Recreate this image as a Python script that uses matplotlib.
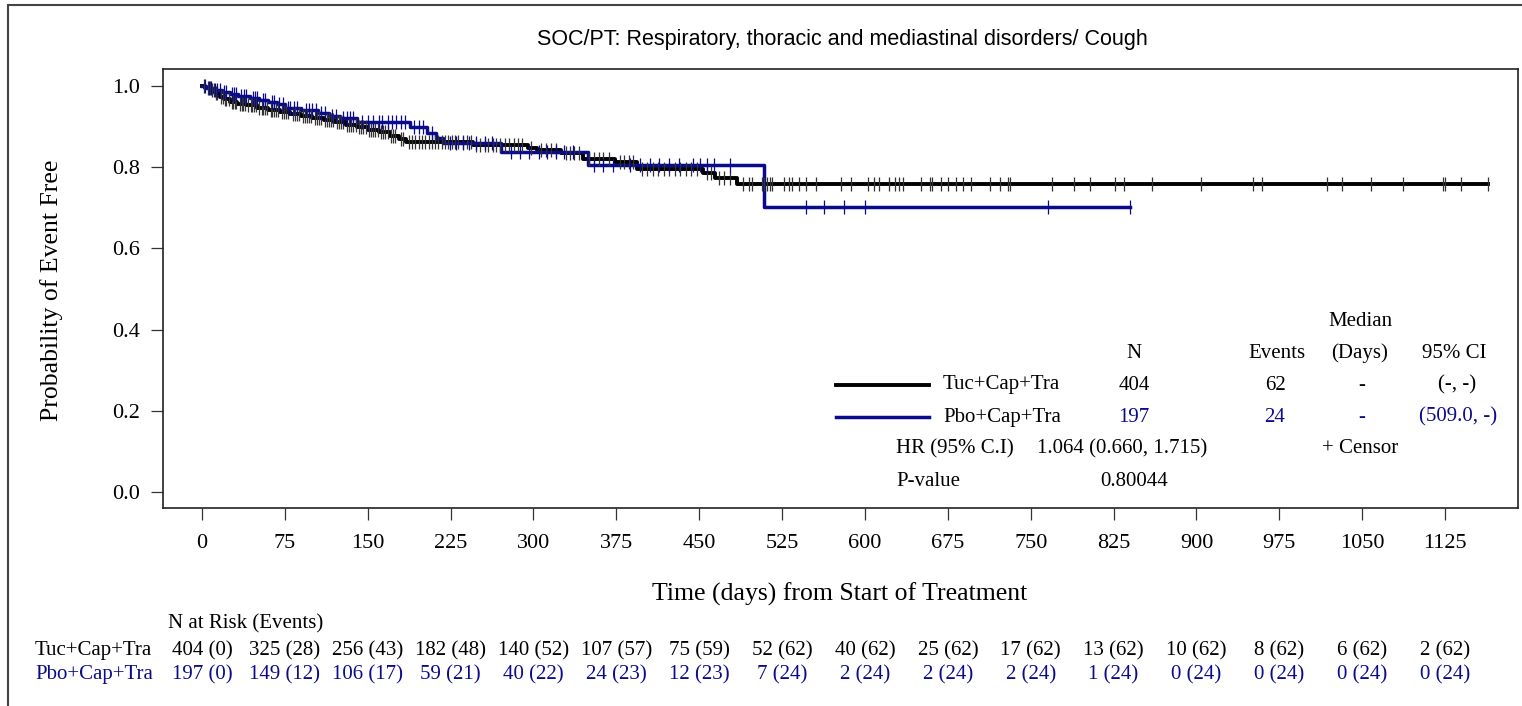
import numpy as np
import matplotlib
matplotlib.use("Agg")
import matplotlib.pyplot as plt
from matplotlib.lines import Line2D
from matplotlib.patches import Rectangle
from matplotlib.transforms import blended_transform_factory

plt.rcParams['font.family'] = ['Liberation Serif', 'DejaVu Serif']

# KM steps (time in days, survival after the step)
tuc_times = [0, 3, 8, 12, 16, 20, 25, 32, 40, 50, 60, 71, 80, 90, 100, 110, 120, 130, 140,
             150, 160, 170, 178, 185, 245, 295, 303, 325, 345, 374, 394, 453, 464, 484]
tuc_surv = [1.0, 0.995, 0.99, 0.982, 0.973, 0.967, 0.96, 0.956, 0.953, 0.946, 0.94, 0.936,
            0.932, 0.927, 0.922, 0.917, 0.911, 0.905, 0.899, 0.892, 0.886, 0.878, 0.87, 0.863,
            0.855, 0.847, 0.842, 0.835, 0.82, 0.813, 0.796, 0.786, 0.773, 0.758]
tuc_end = 1164

pbo_times = [0, 4, 10, 18, 25, 33, 43, 52, 60, 68, 75, 90, 105, 115, 125, 140, 188, 204,
             212, 218, 271, 349, 509]
pbo_surv = [1.0, 0.995, 0.99, 0.985, 0.98, 0.975, 0.97, 0.965, 0.96, 0.955, 0.945, 0.94,
            0.933, 0.927, 0.92, 0.911, 0.898, 0.885, 0.872, 0.859, 0.837, 0.805, 0.702]
pbo_end = 840

tuc_censor = [2, 5, 7, 9, 11, 13, 14, 17, 19, 21, 22, 24, 27, 28, 30, 31, 34, 36, 37, 39, 42,
              44, 45, 47, 49, 52, 54, 55, 57, 59, 62, 63, 65, 67, 69, 72, 74, 76, 78, 82, 84,
              86, 88, 91, 93, 95, 97, 99, 102, 104, 106, 108, 111, 113, 115, 117, 119, 122,
              124, 126, 128, 131, 133, 135, 137, 139, 142, 144, 146, 148, 151, 153, 155, 157,
              159, 162, 164, 166, 168, 171, 173, 175, 180, 182, 187, 190, 193, 196, 199, 202,
              205, 208, 211, 214, 217, 220, 223, 226, 229, 232, 236, 240, 243, 248, 252, 256,
              259, 263, 266, 270, 274, 278, 282, 286, 290, 298, 307, 311, 316, 320, 329, 333,
              337, 341, 350, 355, 359, 363, 368, 378, 382, 386, 390, 398, 403, 408, 413, 418,
              423, 428, 433, 438, 443, 448, 457, 461, 468, 472, 478, 490, 495, 498, 507, 509,
              511, 514, 516, 527, 531, 534, 540, 547, 556, 578, 587, 603, 608, 613, 622, 627,
              631, 634, 651, 659, 661, 669, 675, 682, 689, 696, 713, 722, 729, 731, 769, 789,
              804, 826, 834, 860, 904, 951, 959, 1018, 1032, 1058, 1087, 1123, 1125, 1139, 1164]
pbo_censor = [3, 6, 8, 12, 14, 16, 20, 22, 27, 29, 31, 35, 38, 40, 46, 48, 50, 55, 57, 63, 65,
              70, 73, 78, 80, 83, 86, 94, 97, 100, 103, 108, 111, 118, 121, 128, 131, 134, 137,
              145, 150, 155, 160, 163, 168, 172, 176, 180, 184, 192, 196, 200, 208, 224, 230,
              236, 242, 248, 256, 262, 280, 288, 296, 305, 312, 320, 328, 336, 355, 363, 372,
              387, 396, 405, 414, 423, 432, 444, 451, 457, 463, 478, 547, 563, 581, 600, 766, 840]

xticks = list(range(0, 1126, 75))
tuc_risk = ["404 (0)", "325 (28)", "256 (43)", "182 (48)", "140 (52)", "107 (57)", "75 (59)",
            "52 (62)", "40 (62)", "25 (62)", "17 (62)", "13 (62)", "10 (62)", "8 (62)",
            "6 (62)", "2 (62)"]
pbo_risk = ["197 (0)", "149 (12)", "106 (17)", "59 (21)", "40 (22)", "24 (23)", "12 (23)",
            "7 (24)", "2 (24)", "2 (24)", "2 (24)", "1 (24)", "0 (24)", "0 (24)", "0 (24)",
            "0 (24)"]

BLUE = '#0a0a8c'
W, H = 1522, 706


def fx(x):
    return x / W


def fy(y):
    return 1 - y / H


fig = plt.figure(figsize=(W / 100, H / 100), dpi=100)
ax = fig.add_axes([fx(163), fy(508), fx(1518) - fx(163), fy(69) - fy(508)])

fig.patches.append(Rectangle((fx(8), fy(730)), 1.2, fy(5) - fy(730), transform=fig.transFigure,
                             fill=False, edgecolor='#444444', linewidth=1.5))


def km(times, surv, end, censor, color, lw, tick_color):
    ax.step(times + [end], surv + [surv[-1]], where='post', color=color, lw=lw, zorder=3)
    idx = np.searchsorted(times, censor, side='right') - 1
    cy = np.array(surv)[idx]
    ax.plot(censor, cy, ls='none', marker='|', ms=9.5, mew=0.9, color=tick_color, zorder=4)


km(tuc_times, tuc_surv, tuc_end, tuc_censor, 'black', 2.8, '#333333')
km(pbo_times, pbo_surv, pbo_end, pbo_censor, BLUE, 2.5, BLUE)

ax.set_xlim(-35.3, 1191)
ax.set_ylim(-0.0394, 1.0419)
ax.set_xticks(xticks)
ax.set_yticks([0.0, 0.2, 0.4, 0.6, 0.8, 1.0])
ax.set_yticklabels(["0.0", "0.2", "0.4", "0.6", "0.8", "1.0"])
ax.tick_params(axis='both', direction='out', length=8.6, width=0.9, color='#333333',
               labelsize=16)
ax.tick_params(axis='x', pad=10)
ax.tick_params(axis='y', pad=8)
for s in ax.spines.values():
    s.set_color('#222222')
    s.set_linewidth(1.2)

fig.text(fx(842), fy(40), "SOC/PT: Respiratory, thoracic and mediastinal disorders/ Cough",
         family=['Liberation Sans', 'DejaVu Sans'], fontsize=15.5, ha='center', va='center')
fig.text(fx(52), fy(290), "Probability of Event Free", rotation=90, fontsize=18.5,
         ha='center', va='center')
fig.text(fx(840), fy(594), "Time (days) from Start of Treatment", fontsize=18.5,
         ha='center', va='center')

# statistics box inside the plot
fs = 15
fig.add_artist(Line2D([fx(836), fx(929)], [fy(385), fy(385)], color='black', lw=2.8))
fig.add_artist(Line2D([fx(836), fx(929)], [fy(417), fy(417)], color=BLUE, lw=2.5))
cells = [
    (1360, 322, "Median", 'black', 'center'),
    (1134, 353, "N", 'black', 'center'),
    (1277, 353, "Events", 'black', 'center'),
    (1360, 353, "(Days)", 'black', 'center'),
    (1454, 353, "95% CI", 'black', 'center'),
    (943, 385, "Tuc+Cap+Tra", 'black', 'left'),
    (1134, 385, "404", 'black', 'center'),
    (1275, 385, "62", 'black', 'center'),
    (1362, 385, "-", 'black', 'center'),
    (1457, 385, "(-, -)", 'black', 'center'),
    (943, 417, "Pbo+Cap+Tra", 'black', 'left'),
    (1134, 417, "197", BLUE, 'center'),
    (1275, 417, "24", BLUE, 'center'),
    (1362, 417, "-", BLUE, 'center'),
    (1458, 417, "(509.0, -)", BLUE, 'center'),
    (896, 449, "HR (95% C.I)", 'black', 'left'),
    (1037, 449, "1.064 (0.660, 1.715)", 'black', 'left'),
    (1360, 449, "+ Censor", 'black', 'center'),
    (896, 482, "P-value", 'black', 'left'),
    (1134, 482, "0.80044", 'black', 'center'),
]
for x, y, s, c, ha in cells:
    fig.text(fx(x), fy(y), s, fontsize=fs, color=c, ha=ha, va='center')

# number at risk table
fig.text(fx(168), fy(624), "N at Risk (Events)", fontsize=fs, ha='left', va='center')
fig.text(fx(35), fy(651), "Tuc+Cap+Tra", fontsize=fs, ha='left', va='center')
fig.text(fx(35), fy(675), "Pbo+Cap+Tra", fontsize=fs, color=BLUE, ha='left', va='center')
tr = blended_transform_factory(ax.transData, fig.transFigure)
for t, a, b in zip(xticks, tuc_risk, pbo_risk):
    fig.text(t, fy(651), a, transform=tr, fontsize=fs, ha='center', va='center')
    fig.text(t, fy(675), b, transform=tr, fontsize=fs, color=BLUE, ha='center', va='center')

fig.savefig("out.png", dpi=100)
